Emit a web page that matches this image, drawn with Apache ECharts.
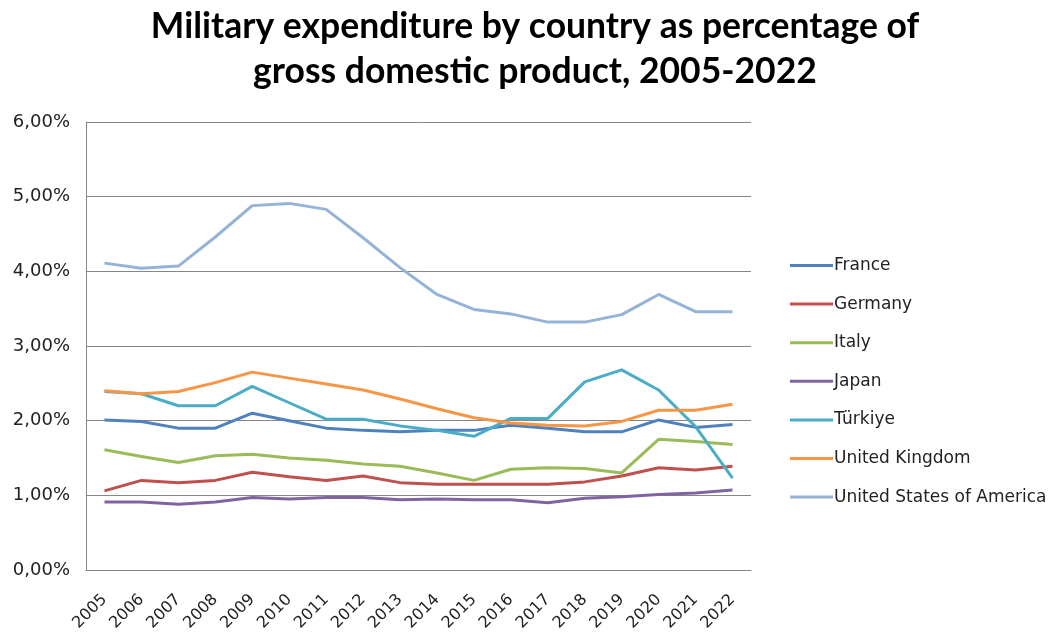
<!DOCTYPE html>
<html>
<head>
<meta charset="utf-8">
<script src="https://cdn.jsdelivr.net/npm/echarts@6/dist/echarts.min.js"></script>
<style>
  html, body { margin: 0; padding: 0; background: #fff; }
  #chart { width: 1057px; height: 639px; }
</style>
</head>
<body>
<div id="chart"></div>
<script>
const years = ['2005', '2006', '2007', '2008', '2009', '2010', '2011', '2012', '2013',
    '2014', '2015', '2016', '2017', '2018', '2019', '2020', '2021', '2022'];

// values in % of GDP
const france = [2.01, 1.99, 1.90, 1.90, 2.10, 2.00, 1.90, 1.87, 1.85, 1.87, 1.87, 1.94, 1.90, 1.85, 1.85, 2.01, 1.91, 1.95];
const germany = [1.06, 1.20, 1.17, 1.20, 1.31, 1.25, 1.20, 1.26, 1.17, 1.15, 1.15, 1.15, 1.15, 1.18, 1.26, 1.37, 1.34, 1.39];
const italy = [1.61, 1.52, 1.44, 1.53, 1.55, 1.50, 1.47, 1.42, 1.39, 1.30, 1.20, 1.35, 1.37, 1.36, 1.30, 1.75, 1.72, 1.68];
const japan = [0.91, 0.91, 0.88, 0.91, 0.97, 0.95, 0.97, 0.97, 0.94, 0.95, 0.94, 0.94, 0.90, 0.96, 0.98, 1.01, 1.03, 1.07];
const turkiye = [2.39, 2.36, 2.20, 2.20, 2.46, 2.24, 2.02, 2.02, 1.93, 1.87, 1.79, 2.03, 2.03, 2.52, 2.68, 2.41, 1.92, 1.23];
const unitedKingdom = [2.40, 2.36, 2.39, 2.51, 2.65, 2.57, 2.49, 2.41, 2.29, 2.16, 2.04, 1.97, 1.94, 1.93, 1.99, 2.14, 2.14, 2.22];
const usa = [4.11, 4.04, 4.07, 4.46, 4.88, 4.91, 4.83, 4.45, 4.05, 3.69, 3.49, 3.43, 3.32, 3.32, 3.42, 3.69, 3.46, 3.46];

const seriesNames = ['France', 'Germany', 'Italy', 'Japan', 'Türkiye', 'United Kingdom', 'United States of America'];
const seriesData = [france, germany, italy, japan, turkiye, unitedKingdom, usa];
const colors = ['#4F81BD', '#C0504D', '#9BBB59', '#8064A2', '#4BACC6', '#F79646', '#95B3D7'];

const TITLE_FONT = 'Lato, "Open Sans", sans-serif';
const LABEL_FONT = '"DejaVu Sans", Verdana, sans-serif';

const chart = echarts.init(document.getElementById('chart'));

chart.setOption({
    animation: false,
    color: colors,
    title: {
        text: 'Military expenditure by country as percentage of\ngross domestic product, 2005-2022',
        left: 530,
        textAlign: 'center',
        top: -1,
        textStyle: {
            fontFamily: TITLE_FONT,
            fontWeight: 'bold',
            fontSize: 35.5,
            lineHeight: 45,
            color: '#000'
        }
    },
    legend: {
        orient: 'vertical',
        left: 785,
        top: 252,
        icon: 'rect',
        itemWidth: 43,
        itemHeight: 3,
        itemGap: 21.6,
        data: seriesNames,
        textStyle: {
            fontFamily: LABEL_FONT,
            fontSize: 17,
            color: '#222',
            padding: [0, 0, 0, -4]
        }
    },
    grid: {
        left: 86,
        right: 306,
        top: 122,
        bottom: 69,
        containLabel: false
    },
    xAxis: {
        type: 'category',
        boundaryGap: true,
        data: years,
        axisTick: { show: false },
        axisLine: { lineStyle: { color: '#868686', width: 1 } },
        axisLabel: {
            rotate: 45,
            interval: 0,
            margin: 27,
            fontFamily: LABEL_FONT,
            fontSize: 16,
            color: '#222'
        }
    },
    yAxis: {
        type: 'value',
        min: 0,
        max: 6,
        interval: 1,
        axisLine: { show: true, lineStyle: { color: '#868686', width: 1 } },
        axisTick: { show: false },
        splitLine: { lineStyle: { color: '#868686', width: 1 } },
        axisLabel: {
            margin: 16,
            fontFamily: LABEL_FONT,
            fontSize: 18,
            color: '#222',
            formatter: v => v.toFixed(2).replace('.', ',') + '%'
        }
    },
    series: seriesNames.map((name, i) => ({
        name: name,
        type: 'line',
        data: seriesData[i],
        showSymbol: false,
        symbol: 'none',
        lineStyle: { width: 3 }
    }))
});
</script>
</body>
</html>
